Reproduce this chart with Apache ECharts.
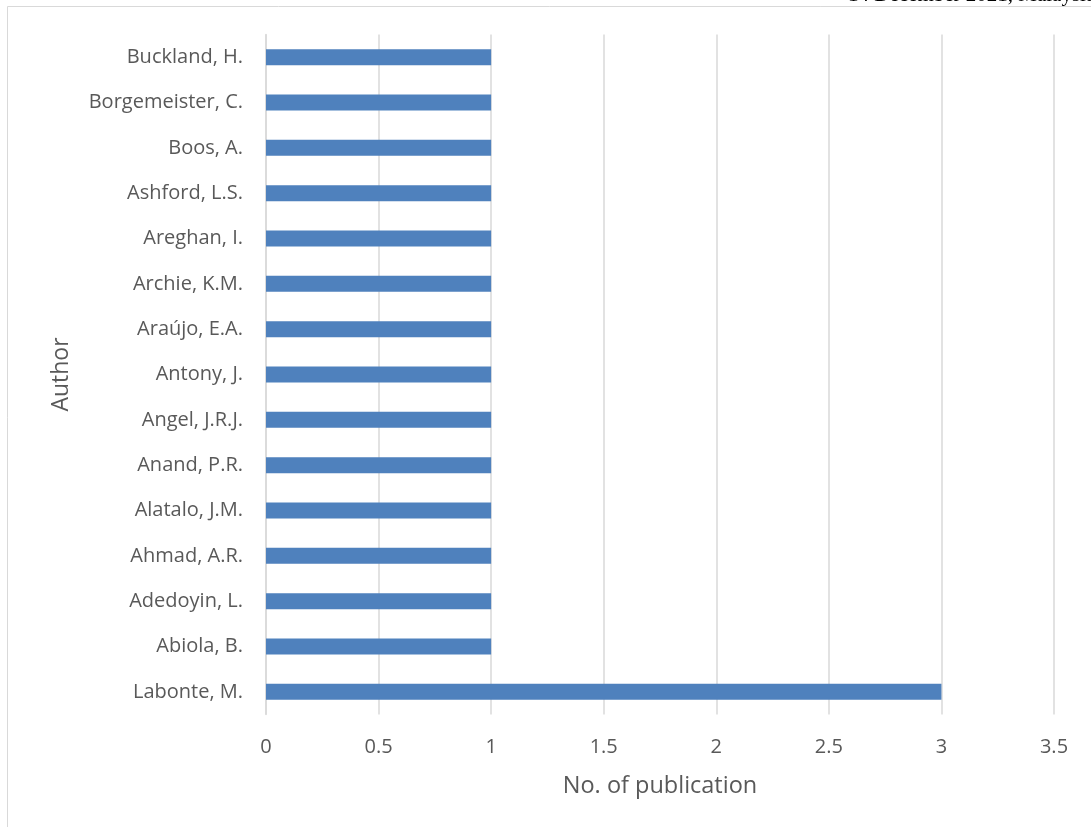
<!DOCTYPE html>
<html>
<head>
<meta charset="utf-8">
<script src="https://cdn.jsdelivr.net/npm/echarts@6/dist/echarts.min.js"></script>
<style>
  html, body { margin: 0; padding: 0; background: #fff; }
  #chart { width: 1091px; height: 827px; }
</style>
</head>
<body>
<div id="chart"></div>
<script>
// Authors, listed bottom-to-top as they appear on the category axis
const authors = [
  'Labonte, M.', 'Abiola, B.', 'Adedoyin, L.', 'Ahmad, A.R.', 'Alatalo, J.M.',
  'Anand, P.R.', 'Angel, J.R.J.', 'Antony, J.', 'Araújo, E.A.', 'Archie, K.M.',
  'Areghan, I.', 'Ashford, L.S.', 'Boos, A.', 'Borgemeister, C.', 'Buckland, H.'
];
// Number of publications per author
const publications = [3, 1, 1, 1, 1, 1, 1, 1, 1, 1, 1, 1, 1, 1, 1];
// Value axis ticks
const xTicks = [0, 0.5, 1, 1.5, 2, 2.5, 3, 3.5];

const font = '"Open Sans", "Noto Sans", sans-serif';
const chart = echarts.init(document.getElementById('chart'), null, { renderer: 'canvas' });

chart.setOption({
  animation: false,
  backgroundColor: '#ffffff',
  graphic: [
    {
      type: 'rect',
      shape: { x: 7.5, y: 6.5, width: 1100, height: 830 },
      style: { fill: 'none', stroke: '#d9d9d9', lineWidth: 1 },
      silent: true
    },
    {
      type: 'text',
      x: 848,
      y: 6,
      style: {
        text: '14 December 2021, Malaysia',
        font: '21px "Liberation Serif", "DejaVu Serif", serif',
        fill: '#000000',
        align: 'left',
        verticalAlign: 'bottom'
      },
      silent: true
    }
  ],
  grid: {
    left: 266,
    right: 37,
    top: 34.5,
    bottom: 112.5,
    containLabel: false
  },
  xAxis: {
    type: 'value',
    min: 0,
    max: xTicks[xTicks.length - 1],
    interval: 0.5,
    axisLine: { show: false },
    axisTick: { show: false },
    splitLine: { show: true, lineStyle: { color: '#d9d9d9', width: 1.5 } },
    axisLabel: {
      color: '#595959',
      fontFamily: font,
      fontSize: 20,
      margin: 23,
      formatter: v => String(v)
    },
    name: 'No. of publication',
    nameLocation: 'middle',
    nameGap: 60,
    nameTextStyle: { color: '#595959', fontFamily: font, fontSize: 23.5 }
  },
  yAxis: {
    type: 'category',
    data: authors,
    axisLine: { show: true, lineStyle: { color: '#d9d9d9', width: 1.5 } },
    axisTick: { show: false },
    axisLabel: {
      color: '#595959',
      fontFamily: font,
      fontSize: 20,
      margin: 23
    },
    name: 'Author',
    nameLocation: 'middle',
    nameGap: 193,
    nameRotate: 90,
    nameTextStyle: { color: '#595959', fontFamily: font, fontSize: 23 }
  },
  series: [{
    type: 'bar',
    data: publications,
    barWidth: 16,
    itemStyle: { color: '#4f81bd' }
  }]
});
</script>
</body>
</html>
